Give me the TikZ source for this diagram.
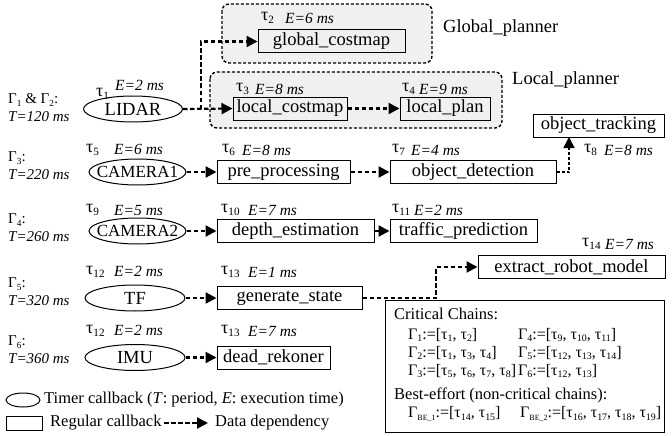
\documentclass[tikz,border=0pt]{standalone}
\usepackage{fontspec}
\setmainfont{Liberation Serif}
\usetikzlibrary{arrows.meta,shapes.geometric}
\newcommand\sbx[1]{\raisebox{-0.35ex}{\scalebox{0.62}{#1}}}
\newcommand\sbs[1]{\raisebox{-0.35ex}{\scalebox{0.5}{#1}}}
\newcommand\tx[1]{\makebox[0pt]{#1}}
\begin{document}
\begin{tikzpicture}[x=1pt,y=-1pt,
  cbox/.style={draw, line width=1pt, rectangle, minimum height=23pt, inner sep=0pt, font=\fontsize{18.5}{20}\selectfont},
  timer/.style={draw, line width=1pt, ellipse, minimum height=26pt, inner sep=0pt, font=\fontsize{18.5}{20}\selectfont},
  dep/.style={line width=2.2pt, dash pattern=on 4.5pt off 2.5pt, -{Triangle[length=11pt,width=11pt]}},
  grp/.style={draw, line width=1.4pt, dash pattern=on 3pt off 2pt, rounded corners=7pt, fill=black!6},
  tau/.style={anchor=west, inner sep=0pt, font=\fontsize{18}{20}\selectfont},
  ex/.style={anchor=west, inner sep=0pt, font=\fontsize{15.5}{18}\selectfont\itshape},
  gam/.style={anchor=west, inner sep=0pt, font=\fontsize{15}{17}\selectfont},
  per/.style={anchor=west, inner sep=0pt, font=\fontsize{15}{17}\selectfont\itshape},
  lbl/.style={anchor=west, inner sep=0pt, font=\fontsize{18.5}{20}\selectfont},
  lg/.style={anchor=west, inner sep=0pt, font=\fontsize{16.5}{19}\selectfont},
  cc/.style={anchor=west, inner sep=0pt, font=\fontsize{16.5}{19}\selectfont},
  ccr/.style={anchor=west, inner sep=0pt, font=\fontsize{16}{19}\selectfont}]
\useasboundingbox (0,0) rectangle (672,436);
% groups
\draw[grp] (222,4) rectangle (432,63);
\draw[grp] (210,72) rectangle (502,128);
\node[lbl] (glp) at (443,28) {Global\_planner};
\node[lbl] (lcp) at (512,80) {Local\_planner};
% row 1
\node[timer, minimum width=99pt] (lidar) at (133,109) {\tx{LIDAR}};
\node[cbox, minimum width=147pt] (gc) at (331.5,41.5) {global\_costmap};
\node[cbox, minimum width=114pt] (lc) at (290,108.5) {local\_costmap};
\node[cbox, minimum width=90pt] (lp) at (445,108.5) {local\_plan};
\node[cbox, minimum width=131pt] (ot) at (598.5,125.5) {object\_tracking};
% row 2
\node[timer, minimum width=97pt, font=\fontsize{17}{19}\selectfont] (cam1) at (137.5,172) {\tx{CAMERA1}};
\node[cbox, minimum width=133pt] (pp) at (283.5,172) {pre\_processing};
\node[cbox, minimum width=166pt] (od) at (473,172) {object\_detection};
% row 3
\node[timer, minimum width=97pt, font=\fontsize{17}{19}\selectfont] (cam2) at (137.5,231) {\tx{CAMERA2}};
\node[cbox, minimum width=157pt] (de) at (295.5,231) {depth\_estimation};
\node[cbox, minimum width=147pt] (tp) at (463.5,231) {traffic\_prediction};
% row 4
\node[timer, minimum width=100pt] (tf) at (135,298) {\tx{TF}};
\node[cbox, minimum width=145pt] (gs) at (289.5,298) {generate\_state};
\node[cbox, minimum width=187pt] (erm) at (571.5,267) {extract\_robot\_model};
% row 5
\node[timer, minimum width=100pt] (imu) at (135,357.5) {\tx{IMU}};
\node[cbox, minimum width=113pt] (dr) at (273.5,357.5) {dead\_rekoner};
% task labels
\node[tau] (t1) at (96,94) {τ\sbx{1}};   \node[ex] (e1) at (115,85) {E=2 ms};
\node[tau] (t2) at (261,18) {τ\sbx{2}};  \node[ex] (e2) at (285,18) {E=6 ms};
\node[tau] (t3) at (236,89) {τ\sbx{3}};  \node[ex] (e3) at (255,89) {E=8 ms};
\node[tau] (t4) at (402,89) {τ\sbx{4}};  \node[ex] (e4) at (419,89) {E=9 ms};
\node[tau] (t5) at (86,150) {τ\sbx{5}};  \node[ex] (e5) at (114,149) {E=6 ms};
\node[tau] (t6) at (222,150) {τ\sbx{6}}; \node[ex] (e6) at (242,150) {E=8 ms};
\node[tau] (t7) at (392,150) {τ\sbx{7}}; \node[ex] (e7) at (411,150) {E=4 ms};
\node[tau] (t8) at (584,150) {τ\sbx{8}}; \node[ex] (e8) at (604,150) {E=8 ms};
\node[tau] (t9) at (86,210) {τ\sbx{9}};  \node[ex] (e9) at (114,210) {E=5 ms};
\node[tau] (t10) at (221,210) {τ\sbx{10}}; \node[ex] (e10) at (248,210) {E=7 ms};
\node[tau] (t11) at (392,210) {τ\sbx{11}}; \node[ex] (e11) at (414,210) {E=2 ms};
\node[tau] (t12) at (86,272) {τ\sbx{12}}; \node[ex] (e12) at (114,271) {E=2 ms};
\node[tau] (t13) at (221,272) {τ\sbx{13}}; \node[ex] (e13) at (248,272) {E=1 ms};
\node[tau] (t14) at (582,244) {τ\sbx{14}}; \node[ex] (e14) at (605,244) {E=7 ms};
\node[tau] (t12b) at (86,331) {τ\sbx{12}}; \node[ex] (e12b) at (114,330) {E=2 ms};
\node[tau] (t13b) at (221,331) {τ\sbx{13}}; \node[ex] (e13b) at (248,331) {E=7 ms};
% chain labels
\node[gam] (g12) at (8,100) {Γ\sbx{1} \& Γ\sbx{2}:}; \node[per] (p1) at (8,117) {T=120 ms};
\node[gam] (g3) at (8,158) {Γ\sbx{3}:}; \node[per] (p3) at (8,175) {T=220 ms};
\node[gam] (g4) at (8,220) {Γ\sbx{4}:}; \node[per] (p4) at (8,237) {T=260 ms};
\node[gam] (g5) at (8,284) {Γ\sbx{5}:}; \node[per] (p5) at (8,301) {T=320 ms};
\node[gam] (g6) at (8,342) {Γ\sbx{6}:}; \node[per] (p6) at (8,359) {T=360 ms};
% connectors
\coordinate (jn) at (201,109);
\draw[dep] (lidar.east) -- (lc.west);
\draw[dep] (jn) |- (gc.west);
\draw[dep] (lc.east) -- (lp.west);
\draw[dep] (cam1.east) -- (pp.west);
\draw[dep] (pp.east) -- (od.west);
\coordinate (otin) at (569,137);
\draw[dep, line width=1.6pt, dash pattern=on 3pt off 2pt] (od.east) -| (otin);
\draw[dep] (cam2.east) -- (de.west);
\draw[dep] (de.east) -- (tp.west);
\draw[dep] (tf.east) -- (gs.west);
\coordinate (bend) at (436,298);
\draw[dep] (gs.east) -- (bend) |- (erm.west);
\draw[dep] (imu.east) -- (dr.west);
% legend
\node[draw, line width=1pt, ellipse, minimum width=34pt, minimum height=14pt, inner sep=0pt] (lgell) at (23,400) {};
\node[lg] (lgt) at (44,400) {Timer callback (\textit{T}: period, \textit{E}: execution time)};
\node[draw, line width=1pt, rectangle, minimum width=36pt, minimum height=14pt, inner sep=0pt] (lgrect) at (24,423) {};
\node[lg] (lgr) at (50,423) {Regular callback};
\coordinate (la) at (164,423);
\coordinate (lb) at (208,423);
\draw[dep] (la) -- (lb);
\node[lg] (lgd) at (215,423) {Data dependency};
% critical chains box
\node[draw, line width=1pt, rectangle, minimum width=279pt, minimum height=132pt, inner sep=0pt] (ccb) at (524.5,366) {};
\node[cc] (cch) at (394,314) {Critical Chains:};
\node[ccr] (c1) at (408,335) {Γ\sbx{1}:=[τ\sbx{1}, τ\sbx{2}]};
\node[ccr] (c4) at (518,335) {Γ\sbx{4}:=[τ\sbx{9}, τ\sbx{10}, τ\sbx{11}]};
\node[ccr] (c2) at (408,353) {Γ\sbx{2}:=[τ\sbx{1}, τ\sbx{3}, τ\sbx{4}]};
\node[ccr] (c5) at (518,353) {Γ\sbx{5}:=[τ\sbx{12}, τ\sbx{13}, τ\sbx{14}]};
\node[ccr] (c3) at (408,371) {Γ\sbx{3}:=[τ\sbx{5}, τ\sbx{6}, τ\sbx{7}, τ\sbx{8}]};
\node[ccr] (c6) at (518,371) {Γ\sbx{6}:=[τ\sbx{12}, τ\sbx{13}]};
\node[cc] (beh) at (394,395) {Best-effort (non-critical chains):};
\node[ccr] (b1) at (408,414) {Γ\sbs{BE\_1}:=[τ\sbx{14}, τ\sbx{15}]};
\node[ccr] (b2) at (520,414) {Γ\sbs{BE\_2}:=[τ\sbx{16}, τ\sbx{17}, τ\sbx{18}, τ\sbx{19}]};
\end{tikzpicture}
\end{document}
